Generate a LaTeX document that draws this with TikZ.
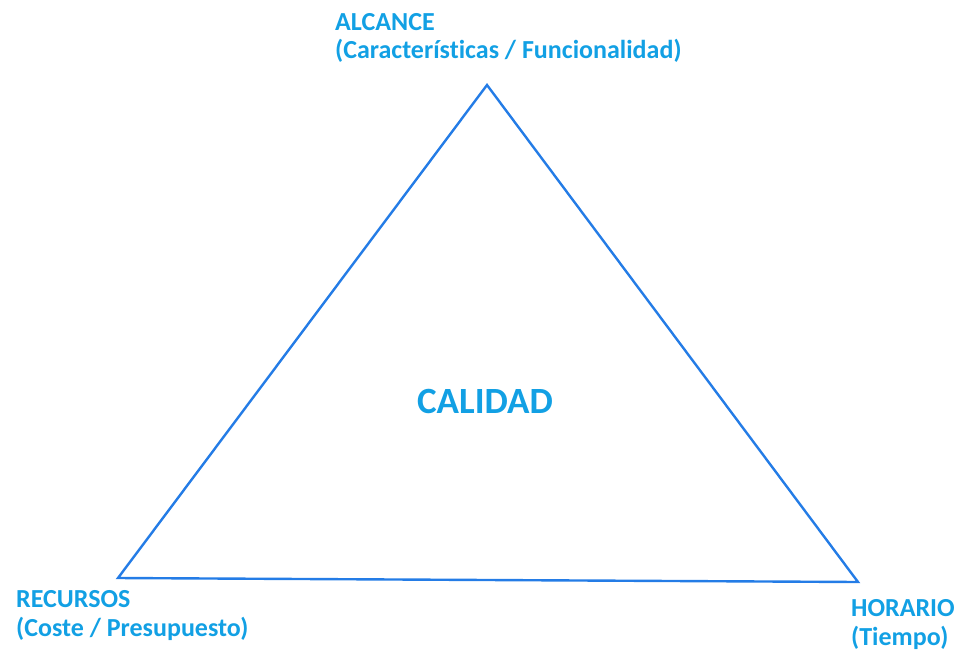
\documentclass[tikz,border=0pt]{standalone}
\usepackage{fontspec}
\setmainfont{Carlito}[Ligatures={NoCommon,NoContextual}]
\definecolor{txtblue}{RGB}{18,160,228}
\definecolor{lineblue}{RGB}{36,124,230}
\begin{document}
\begin{tikzpicture}[x=1pt,y=-1pt,
  lbl/.style={anchor=base west,inner sep=0pt,text=txtblue,font=\fontsize{26}{30}\selectfont\bfseries},
  big/.style={anchor=base,inner sep=0pt,text=txtblue,font=\fontsize{37}{42}\selectfont\bfseries},
  tri/.style={draw=lineblue,line width=2.4pt,line join=miter}]
\useasboundingbox (0,0) rectangle (964,657);
\coordinate (top) at (487,85);
\coordinate (bl) at (118,578);
\coordinate (br) at (858,582);
\draw[tri] (top) -- (bl) -- (br) -- cycle;
\node[lbl] (alc1) at (335,30) {ALCANCE};
\node[lbl] (alc2) at (335,58) {(Características / Funcionalidad)};
\node[lbl] (rec1) at (16,607) {RECURSOS};
\node[lbl] (rec2) at (16,636) {(Coste / Presupuesto)};
\node[lbl] (hor1) at (851,616) {HORARIO};
\node[lbl] (hor2) at (851,645) {(Tiempo)};
\node[big] (cal) at (485,413) {CALIDAD};
\end{tikzpicture}
\end{document}
